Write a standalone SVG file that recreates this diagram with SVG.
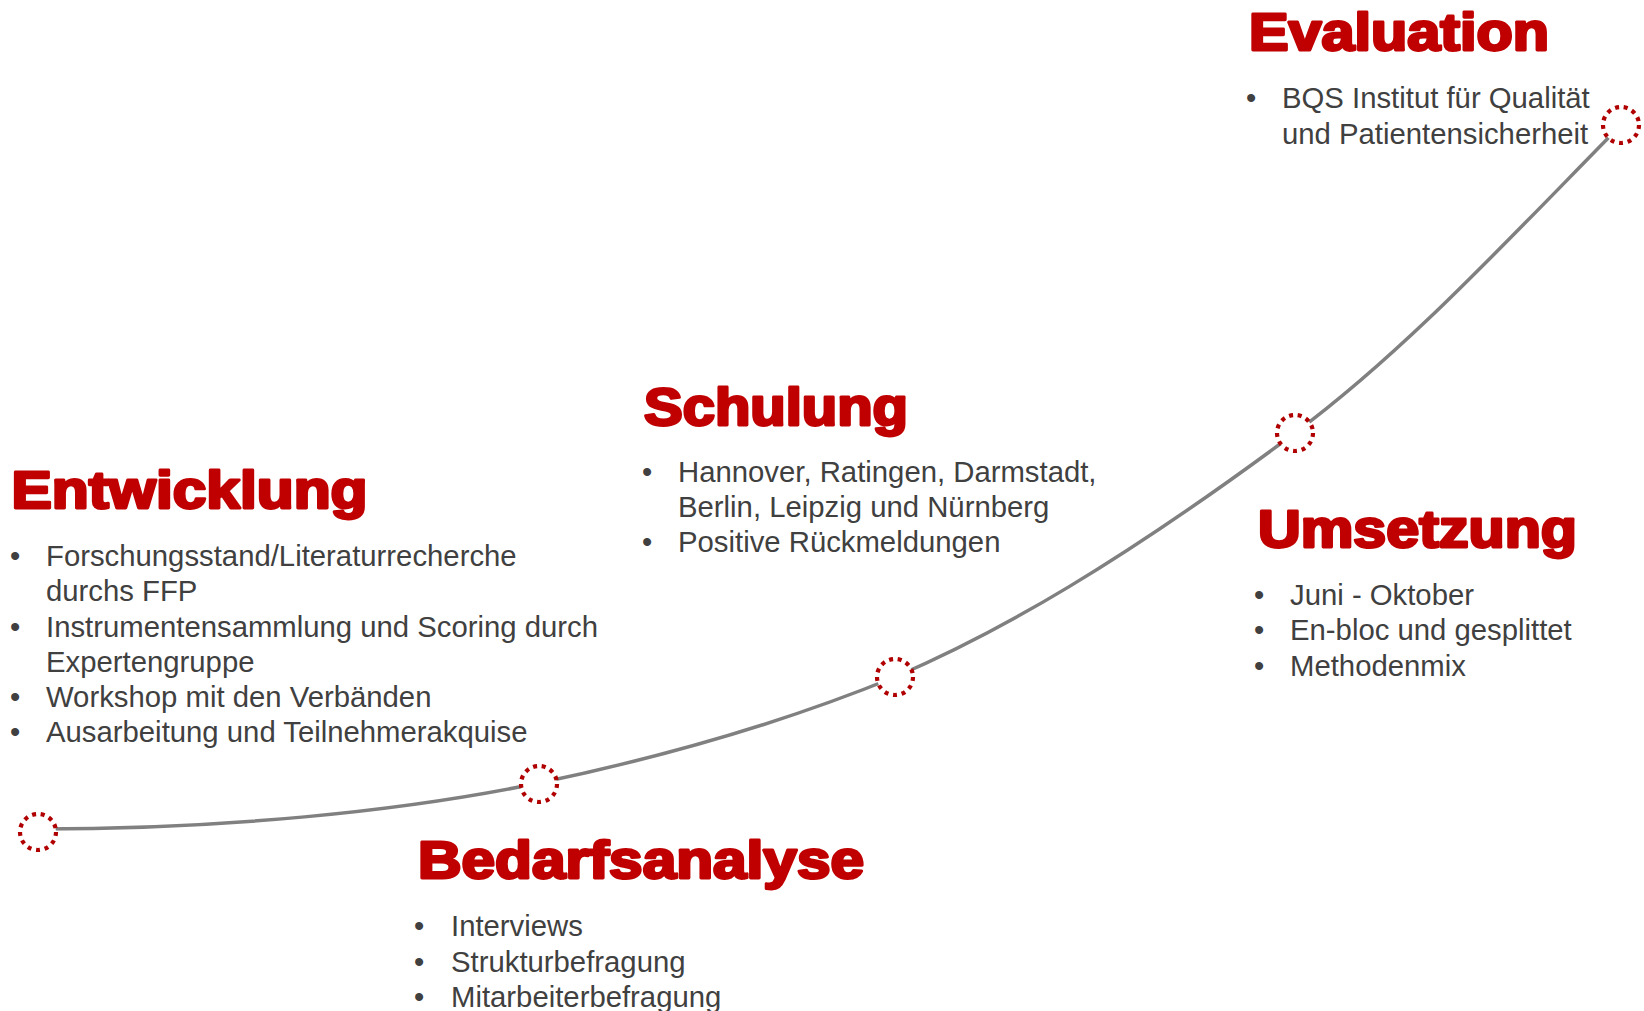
<svg xmlns="http://www.w3.org/2000/svg" width="1644" height="1011" viewBox="0 0 1644 1011">
  <style>
    .title { font-family: "Liberation Sans", Arial, sans-serif; font-weight: 700; font-size: 51px; fill: #C00000; stroke: #C00000; stroke-width: 2.8; stroke-linejoin: round; }
    .item { font-family: "Liberation Sans", Arial, sans-serif; font-size: 29.3px; fill: #404040; }
    .milestone { fill: #FFFFFF; stroke: #B00000; stroke-width: 4.2; stroke-dasharray: 4 4.7; }
    .curve { fill: none; stroke: #808080; stroke-width: 3.5; stroke-linecap: round; }
  </style>

  <rect width="1644" height="1011" fill="#FFFFFF"/>

  <!-- timeline curve -->
  <g id="connectors">
    <path class="curve" d="M 38 829 C 220 829, 400 812, 539 783 C 659 758, 775 726, 895 677 C 1000 632, 1120 563, 1295 433 C 1405 351, 1500 248, 1621 125"/>
  </g>

  <g id="entwicklung">
    <circle class="milestone" cx="38" cy="832" r="18"/>
    <text class="title" x="11.5" y="508" textLength="356" lengthAdjust="spacingAndGlyphs">Entwicklung</text>
    <text class="item" x="10" y="566">•</text>
    <text class="item" x="46" y="566">Forschungsstand/Literaturrecherche</text>
    <text class="item" x="46" y="601">durchs FFP</text>
    <text class="item" x="10" y="636.5">•</text>
    <text class="item" x="46" y="636.5">Instrumentensammlung und Scoring durch</text>
    <text class="item" x="46" y="671.5">Expertengruppe</text>
    <text class="item" x="10" y="707">•</text>
    <text class="item" x="46" y="707">Workshop mit den Verbänden</text>
    <text class="item" x="10" y="742">•</text>
    <text class="item" x="46" y="742">Ausarbeitung und Teilnehmerakquise</text>
  </g>

  <g id="bedarfsanalyse">
    <circle class="milestone" cx="539" cy="784" r="18"/>
    <text class="title" x="418" y="878" textLength="446" lengthAdjust="spacingAndGlyphs">Bedarfsanalyse</text>
    <text class="item" x="414" y="936">•</text>
    <text class="item" x="451" y="936">Interviews</text>
    <text class="item" x="414" y="972">•</text>
    <text class="item" x="451" y="972">Strukturbefragung</text>
    <text class="item" x="414" y="1007">•</text>
    <text class="item" x="451" y="1007">Mitarbeiterbefragung</text>
  </g>

  <g id="schulung">
    <circle class="milestone" cx="895" cy="677" r="18"/>
    <text class="title" x="644" y="425" textLength="264" lengthAdjust="spacingAndGlyphs">Schulung</text>
    <text class="item" x="642" y="482">•</text>
    <text class="item" x="678" y="482">Hannover, Ratingen, Darmstadt,</text>
    <text class="item" x="678" y="517">Berlin, Leipzig und Nürnberg</text>
    <text class="item" x="642" y="552">•</text>
    <text class="item" x="678" y="552">Positive Rückmeldungen</text>
  </g>

  <g id="umsetzung">
    <circle class="milestone" cx="1295" cy="433" r="18"/>
    <text class="title" x="1258" y="547" textLength="319" lengthAdjust="spacingAndGlyphs">Umsetzung</text>
    <text class="item" x="1254" y="605">•</text>
    <text class="item" x="1290" y="605">Juni - Oktober</text>
    <text class="item" x="1254" y="640">•</text>
    <text class="item" x="1290" y="640">En-bloc und gesplittet</text>
    <text class="item" x="1254" y="676">•</text>
    <text class="item" x="1290" y="676">Methodenmix</text>
  </g>

  <g id="evaluation">
    <circle class="milestone" cx="1621" cy="125" r="18"/>
    <text class="title" x="1249" y="50" textLength="300" lengthAdjust="spacingAndGlyphs">Evaluation</text>
    <text class="item" x="1246" y="108">•</text>
    <text class="item" x="1282" y="108">BQS Institut für Qualität</text>
    <text class="item" x="1282" y="144">und Patientensicherheit</text>
  </g>
</svg>
